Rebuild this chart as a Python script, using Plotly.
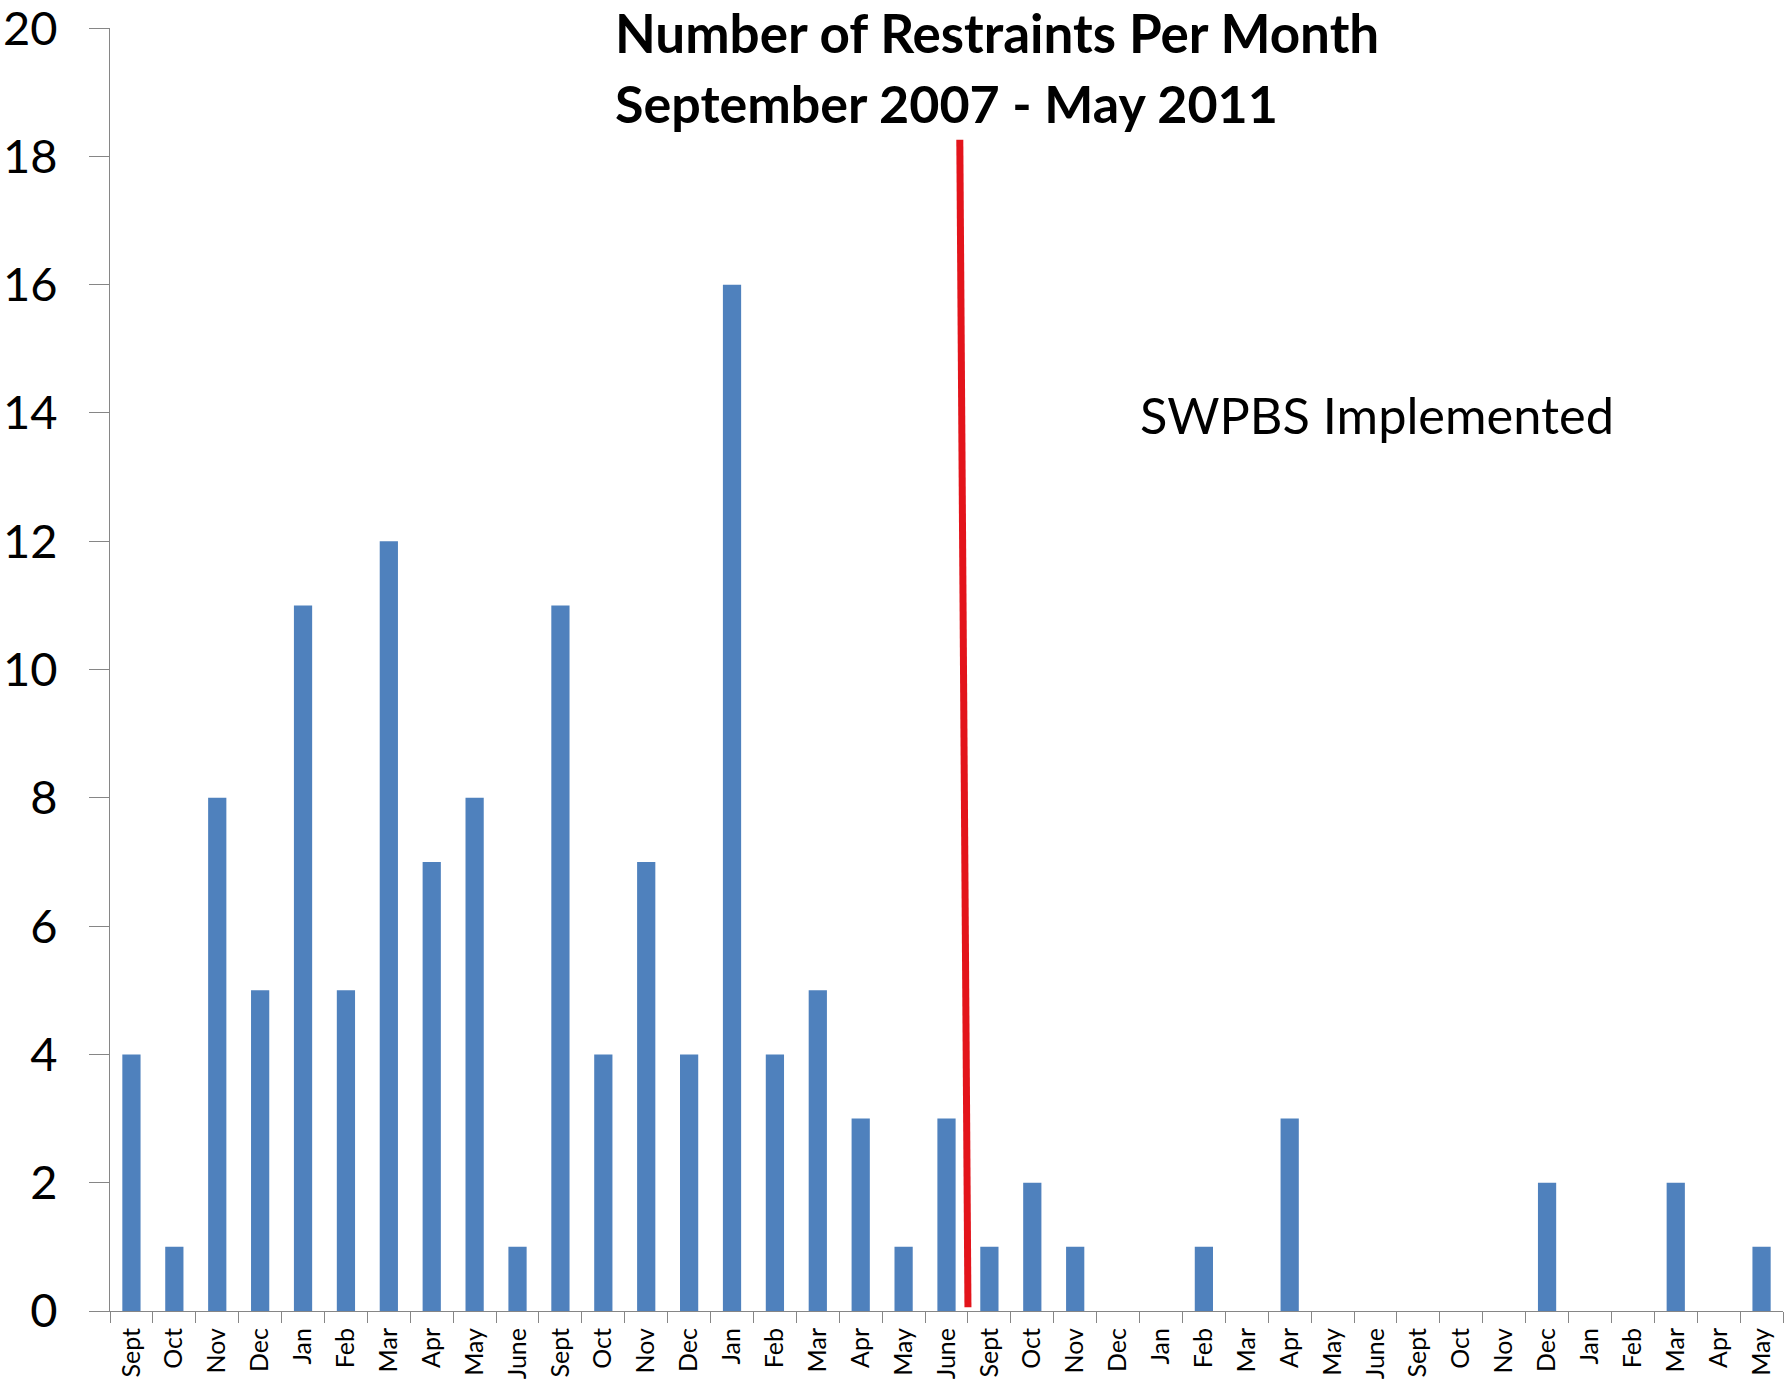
import plotly.graph_objects as go

# Data
month_keys = [
    "2007-09", "2007-10", "2007-11", "2007-12", "2008-01", "2008-02", "2008-03", "2008-04", "2008-05", "2008-06",
    "2008-09", "2008-10", "2008-11", "2008-12", "2009-01", "2009-02", "2009-03", "2009-04", "2009-05", "2009-06",
    "2009-09", "2009-10", "2009-11", "2009-12", "2010-01", "2010-02", "2010-03", "2010-04", "2010-05", "2010-06",
    "2010-09", "2010-10", "2010-11", "2010-12", "2011-01", "2011-02", "2011-03", "2011-04", "2011-05",
]
month_labels = [
    "Sept", "Oct", "Nov", "Dec", "Jan", "Feb", "Mar", "Apr", "May", "June",
    "Sept", "Oct", "Nov", "Dec", "Jan", "Feb", "Mar", "Apr", "May", "June",
    "Sept", "Oct", "Nov", "Dec", "Jan", "Feb", "Mar", "Apr", "May", "June",
    "Sept", "Oct", "Nov", "Dec", "Jan", "Feb", "Mar", "Apr", "May",
]
restraints = [
    4, 1, 8, 5, 11, 5, 12, 7, 8, 1,
    11, 4, 7, 4, 16, 4, 5, 3, 1, 3,
    1, 2, 1, 0, 0, 1, 0, 3, 0, 0,
    0, 0, 0, 2, 0, 0, 2, 0, 1,
]
y_ticks = [0, 2, 4, 6, 8, 10, 12, 14, 16, 18, 20]

# Intervention marker (category-index / value units)
marker_x = [19.31, 19.5]
marker_y = [18.26, 0.06]

title_lines = ["Number of Restraints Per Month", "September 2007 - May 2011"]
note_text = "SWPBS Implemented"

W, H = 1787, 1383
ML, MR, MT, MB = 110, 4, 28, 72
PH = H - MT - MB
PW = W - ML - MR


def py(p):
    return (H - MB - p) / PH


def px(p):
    return (p - ML) / PW


fig = go.Figure()
fig.add_trace(go.Bar(
    x=month_keys, y=restraints,
    marker=dict(color="#4F81BD", line=dict(width=0)),
    showlegend=False,
))

fig.add_shape(type="line", xref="x", yref="y",
              x0=marker_x[0], y0=marker_y[0], x1=marker_x[1], y1=marker_y[1],
              line=dict(color="#E3141B", width=7))

fig.add_annotation(text="<b>%s</b>" % title_lines[0], xref="paper", yref="paper",
                   x=px(613), y=py(33), xanchor="left", yanchor="middle", showarrow=False,
                   font=dict(family="Lato", size=53, color="black"))
fig.add_annotation(text="<b>%s</b>" % title_lines[1], xref="paper", yref="paper",
                   x=px(613), y=py(103), xanchor="left", yanchor="middle", showarrow=False,
                   font=dict(family="Lato", size=52, color="black"))
fig.add_annotation(text=note_text, xref="paper", yref="paper",
                   x=px(1138), y=py(415), xanchor="left", yanchor="middle", showarrow=False,
                   font=dict(family="Lato", size=50.5, color="black"))

fig.update_layout(
    width=W, height=H,
    margin=dict(l=ML, r=MR, t=MT, b=MB, pad=0, autoexpand=False),
    paper_bgcolor="white", plot_bgcolor="white",
    bargap=0.575,
    font=dict(family="Lato", color="black"),
)
fig.update_xaxes(
    type="category", automargin=False,
    tickmode="array", tickvals=month_keys, ticktext=month_labels,
    tickangle=-90, tickfont=dict(family="Lato", size=25, color="black"),
    ticks="outside", tickson="boundaries", ticklen=11, tickcolor="#868686", tickwidth=1,
    ticklabelstandoff=6, ticklabeloverflow="allow",
    showline=True, linecolor="#868686", linewidth=1,
    showgrid=False, zeroline=False,
    range=[-0.5, len(month_keys) - 0.5],
)
fig.update_yaxes(
    range=[0, 20.001], tickmode="array", tickvals=y_ticks, automargin=False,
    ticks="outside", ticklen=20, tickcolor="#868686", tickwidth=1,
    tickfont=dict(family="Lato", size=47, color="black"),
    ticklabelstandoff=22, ticklabeloverflow="allow",
    showline=True, linecolor="#868686", linewidth=1,
    showgrid=False, zeroline=False,
)

fig.write_html("out.html", config={"displayModeBar": False},
               post_script="document.body.style.margin='0';")
